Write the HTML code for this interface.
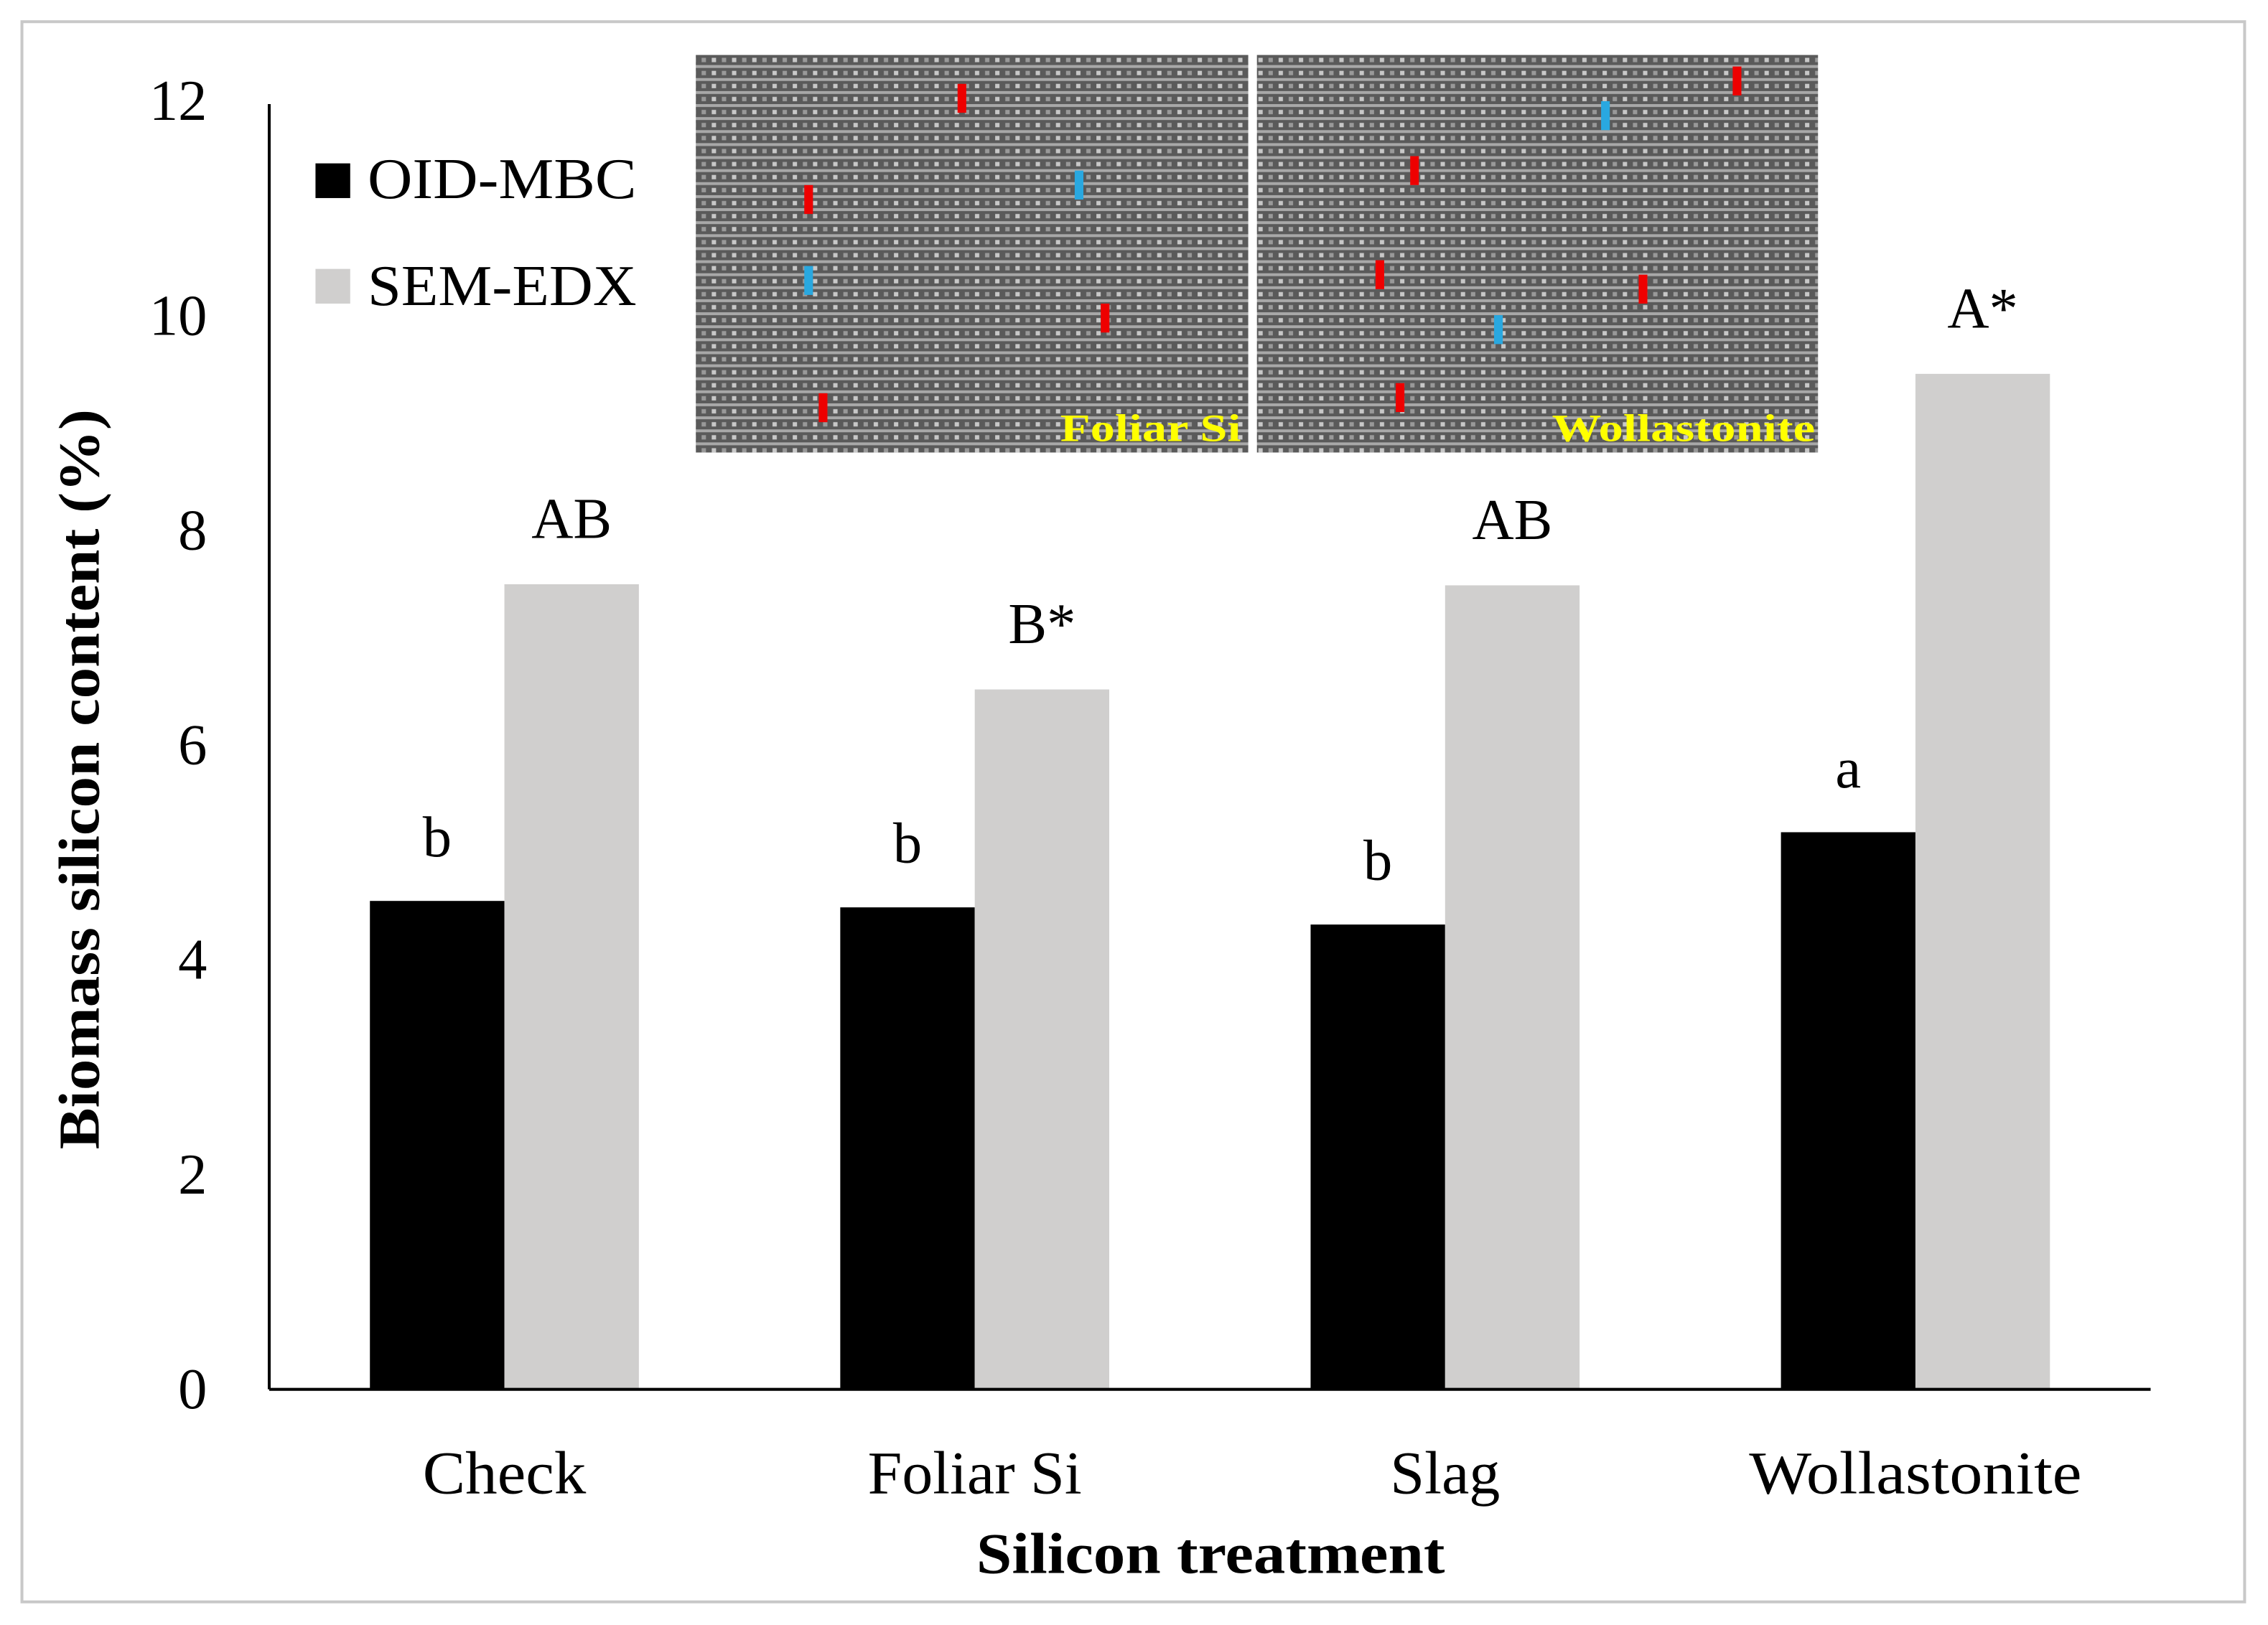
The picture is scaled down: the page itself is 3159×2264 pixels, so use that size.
<!DOCTYPE html>
<html><head><meta charset="utf-8"><style>
html,body{margin:0;padding:0;background:#fff;}
svg{display:block;}
text{font-family:"Liberation Serif",serif;}
</style></head><body>
<svg id="chart" width="3159" height="2264" viewBox="0 0 1568 1124" xmlns="http://www.w3.org/2000/svg">
<defs>
<pattern id="stripes" width="14" height="9" patternUnits="userSpaceOnUse">
<rect width="14" height="9" fill="#5a5a5a"/>
<rect y="0" width="14" height="2" fill="#a8a8a8"/>
<rect x="2" y="4" width="3" height="3" fill="#c8c8c8"/>
<rect x="9" y="4" width="3" height="3" fill="#999"/>
</pattern>
</defs>
<rect x="15" y="15" width="1537" height="1093" fill="#fff" stroke="#c8c8c8" stroke-width="2"/>
<g id="images">
<rect x="481" y="38" width="382" height="275" fill="url(#stripes)"/>
<rect x="869" y="38" width="388" height="275" fill="url(#stripes)"/>
<g>
<rect x="662" y="58" width="6" height="20" fill="#e00"/><rect x="556" y="128" width="6" height="20" fill="#e00"/>
<rect x="743" y="118" width="6" height="20" fill="#29a8e0"/><rect x="556" y="184" width="6" height="20" fill="#29a8e0"/>
<rect x="761" y="210" width="6" height="20" fill="#e00"/><rect x="566" y="272" width="6" height="20" fill="#e00"/>
<rect x="1198" y="46" width="6" height="20" fill="#e00"/><rect x="1107" y="70" width="6" height="20" fill="#29a8e0"/>
<rect x="975" y="108" width="6" height="20" fill="#e00"/><rect x="951" y="180" width="6" height="20" fill="#e00"/>
<rect x="1133" y="190" width="6" height="20" fill="#e00"/><rect x="1033" y="218" width="6" height="20" fill="#29a8e0"/>
<rect x="965" y="265" width="6" height="20" fill="#e00"/>
</g>
<text x="733" y="305" textLength="125" lengthAdjust="spacingAndGlyphs" font-size="27" font-weight="bold" fill="#ffff00">Foliar Si</text>
<text x="1073" y="305" textLength="182" lengthAdjust="spacingAndGlyphs" font-size="27" font-weight="bold" fill="#ffff00">Wollastonite</text>
</g>
<g id="plot"></g>
<text transform="translate(68,539) rotate(-90)" text-anchor="middle" font-size="40" font-weight="bold" textLength="512" lengthAdjust="spacingAndGlyphs">Biomass silicon content (%)</text>
<text x="837" y="1088" text-anchor="middle" font-size="40" font-weight="bold" textLength="324" lengthAdjust="spacingAndGlyphs">Silicon treatment</text>
<rect x="218" y="113" width="24" height="24" fill="#000"/>
<text x="254" y="137" font-size="40" textLength="186" lengthAdjust="spacingAndGlyphs">OID-MBC</text>
<rect x="218" y="186" width="24" height="24" fill="#d0cfce"/>
<text x="254" y="211" font-size="40" textLength="186" lengthAdjust="spacingAndGlyphs">SEM-EDX</text>
</svg>
<script>
const categories = ["Check", "Foliar Si", "Slag", "Wollastonite"];
const oidValues = [4.55, 4.49, 4.33, 5.19];
const semValues = [7.5, 6.52, 7.49, 9.46];
const oidLetters = ["b", "b", "b", "a"];
const semLetters = ["AB", "B*", "AB", "A*"];
const yTicks = [0, 2, 4, 6, 8, 10, 12];
const labelWidths = [113, 148, 76, 230];

const NS = "http://www.w3.org/2000/svg";
const g = document.getElementById("plot");
const x0 = 186, x1 = 1487, yBase = 961, yTop = 70, yMax = 12;
const yScale = v => yBase - v / yMax * (yBase - yTop);
const band = (x1 - x0) / categories.length;
const xCenter = i => x0 + band * (i + 0.5);
const barW = 93;
function el(tag, attrs, text) {
  const e = document.createElementNS(NS, tag);
  for (const k in attrs) e.setAttribute(k, attrs[k]);
  if (text !== undefined) e.textContent = text;
  g.appendChild(e);
  return e;
}
yTicks.forEach(t => {
  const e = el("text", {x: 143, y: yScale(t) + 13, "text-anchor": "end", "font-size": 40}, String(t));
  
  
});
categories.forEach((c, i) => {
  const cx = xCenter(i);
  const b1 = el("rect", {x: cx - barW, y: yScale(oidValues[i]), width: barW, height: yBase - yScale(oidValues[i]), fill: "#000"});
  
  
  const b2 = el("rect", {x: cx, y: yScale(semValues[i]), width: barW, height: yBase - yScale(semValues[i]), fill: "#d0cfce"});
  
  
  const l1 = el("text", {x: cx - barW / 2, y: yScale(oidValues[i]) - 31, "text-anchor": "middle", "font-size": 40}, oidLetters[i]);
  
  
  const l2 = el("text", {x: cx + barW / 2, y: yScale(semValues[i]) - 32, "text-anchor": "middle", "font-size": 40}, semLetters[i]);
  
  
  const cl = el("text", {x: cx, y: 1033, "text-anchor": "middle", "font-size": 42, textLength: labelWidths[i], lengthAdjust: "spacingAndGlyphs"}, c);
  
  
});
const ya = el("line", {x1: x0, y1: 72, x2: x0, y2: yBase, stroke: "#000", "stroke-width": 2});


const xa = el("line", {x1: x0, y1: yBase, x2: x1, y2: yBase, stroke: "#000", "stroke-width": 2});


</script>
</body></html>
